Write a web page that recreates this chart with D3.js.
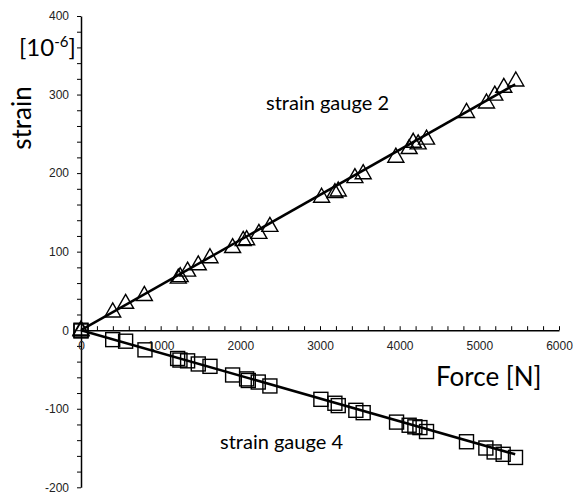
<!DOCTYPE html>
<html>
<head>
<meta charset="utf-8">
<script src="https://cdn.jsdelivr.net/npm/d3@7"></script>
<style>
  body { margin: 0; background: #fff; }
  svg { display: block; }
</style>
</head>
<body>
<svg id="chart" width="578" height="500"></svg>
<script>
// force values [N] and strains [1e-6]
var force2 = [0, 0, 398, 560, 795, 1221, 1245, 1338, 1472, 1619, 1903, 2036, 2079, 2233, 2371,
  3020, 3187, 3229, 3438, 3542, 3952, 4119, 4170, 4232, 4337, 4839, 5090, 5194, 5307, 5458];
var strain2 = [0, 1, 24, 35, 45, 67, 69, 76, 84, 93, 106, 115, 116, 124, 133,
  170, 176, 178, 195, 200, 221, 232, 240, 238, 244, 278, 290, 300, 310, 318];

var force4 = [0, 0, 398, 560, 803, 1213, 1242, 1338, 1472, 1619, 1903, 2079, 2100, 2225, 2371,
  3011, 3187, 3229, 3450, 3542, 3961, 4119, 4191, 4254, 4337, 4839, 5082, 5186, 5299, 5454];
var strain4 = [0, -1, -12, -14, -25, -36, -38, -39, -43, -46, -57, -62, -64, -66, -71,
  -88, -93, -96, -102, -105, -117, -121, -123, -124, -129, -142, -150, -155, -158, -162];

// trend lines, end points
var fitForce = [0, 5450];
var fit2 = [0, 313];
var fit4 = [0, -158];

var xTicks = [0, 1000, 2000, 3000, 4000, 5000, 6000];
var yTicks = [-200, -100, 0, 100, 200, 300, 400];

var svg = d3.select("#chart");

var x = d3.scaleLinear().domain([0, 6000]).range([81, 559]);
var y = d3.scaleLinear().domain([-200, 400]).range([487.3, 16]);

// y axis
var yAxis = svg.append("g")
    .attr("transform", "translate(" + x(0) + ",0)")
    .call(d3.axisLeft(y).tickValues(d3.range(-200, 401, 20)).tickSize(4).tickSizeOuter(0)
        .tickFormat(function (d) { return yTicks.indexOf(d) >= 0 ? d : ""; }));
yAxis.select(".domain").attr("stroke", "#000").attr("stroke-width", 1.5);
yAxis.selectAll(".tick line").attr("stroke", "#000").attr("stroke-width", 1);
yAxis.selectAll(".tick text")
    .attr("x", -12)
    .attr("fill", "#222")
    .style("font-family", "Liberation Sans, Arial, sans-serif")
    .style("font-size", "12px");

// x axis, ticks pointing up
var xAxis = svg.append("g")
    .attr("transform", "translate(0," + y(0) + ")")
    .call(d3.axisBottom(x).tickValues(d3.range(0, 6001, 200)).tickSize(-4).tickSizeOuter(0)
        .tickFormat(function (d) { return xTicks.indexOf(d) >= 0 ? d : ""; }));
xAxis.select(".domain").attr("stroke", "#000").attr("stroke-width", 1.5);
xAxis.selectAll(".tick line").attr("stroke", "#000").attr("stroke-width", 1);
xAxis.selectAll(".tick text")
    .attr("y", 11)
    .attr("fill", "#222")
    .style("font-family", "Liberation Sans, Arial, sans-serif")
    .style("font-size", "12px");

var line = d3.line()
    .x(function (d) { return x(d[0]); })
    .y(function (d) { return y(d[1]); });

svg.append("path")
    .datum(d3.zip(fitForce, fit2))
    .attr("d", line)
    .attr("fill", "none")
    .attr("stroke", "#000")
    .attr("stroke-width", 2.5);

svg.append("path")
    .datum(d3.zip(fitForce, fit4))
    .attr("d", line)
    .attr("fill", "none")
    .attr("stroke", "#000")
    .attr("stroke-width", 2.5);

// triangles
var tw = 16, th = 14;
svg.append("g").selectAll("path")
    .data(d3.zip(force2, strain2))
    .enter().append("path")
    .attr("transform", function (d) { return "translate(" + x(d[0]) + "," + y(d[1]) + ")"; })
    .attr("d", "M0," + (-th * 0.6) + "L" + (tw / 2) + "," + (th * 0.4) + "L" + (-tw / 2) + "," + (th * 0.4) + "Z")
    .attr("fill", "none")
    .attr("stroke", "#000")
    .attr("stroke-width", 1.4);

// squares
var sq = 14;
svg.append("g").selectAll("rect")
    .data(d3.zip(force4, strain4))
    .enter().append("rect")
    .attr("x", function (d) { return x(d[0]) - sq / 2; })
    .attr("y", function (d) { return y(d[1]) - sq / 2; })
    .attr("width", sq)
    .attr("height", sq)
    .attr("fill", "none")
    .attr("stroke", "#000")
    .attr("stroke-width", 1.4);

var font = "Lato, 'Open Sans', sans-serif";

svg.append("text")
    .attr("transform", "translate(31,118) rotate(-90)")
    .attr("text-anchor", "middle")
    .style("font-family", font)
    .style("font-size", "26px")
    .text("strain");

var unit = svg.append("text")
    .attr("x", 19)
    .attr("y", 56)
    .style("font-family", font)
    .style("font-size", "24px");
unit.append("tspan").text("[10");
unit.append("tspan").attr("dy", -9).style("font-size", "15px").text("-6");
unit.append("tspan").attr("dy", 9).text("]");

svg.append("text")
    .attr("x", 436)
    .attr("y", 386)
    .style("font-family", font)
    .style("font-size", "26px")
    .text("Force [N]");

svg.append("text")
    .attr("x", 266)
    .attr("y", 110)
    .style("font-family", font)
    .style("font-size", "20px")
    .text("strain gauge 2");

svg.append("text")
    .attr("x", 220)
    .attr("y", 449)
    .style("font-family", font)
    .style("font-size", "20px")
    .text("strain gauge 4");
</script>
</body>
</html>
